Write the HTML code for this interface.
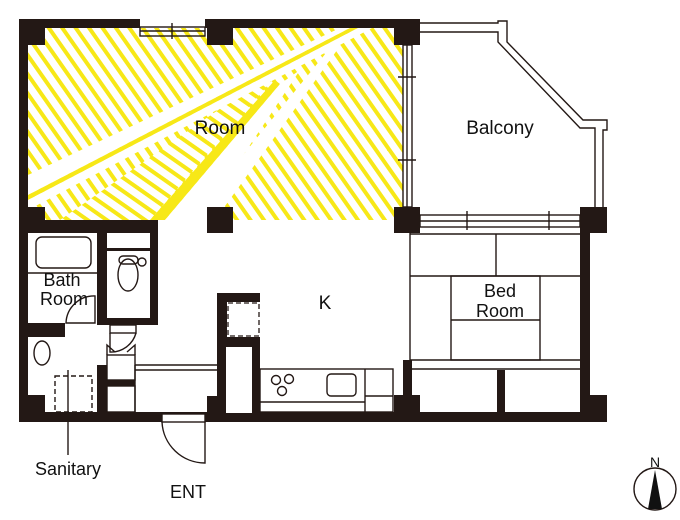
<!DOCTYPE html>
<html><head><meta charset="utf-8"><style>
html,body{margin:0;padding:0;background:#fff}
svg{display:block}
text{font-family:"Liberation Sans",sans-serif;fill:#111}
</style></head><body>
<svg width="680" height="520" viewBox="0 0 680 520" xmlns="http://www.w3.org/2000/svg">
<defs>
<clipPath id="rc"><rect x="28" y="28" width="375" height="192"/></clipPath>
<pattern id="h2" width="11" height="11" patternUnits="userSpaceOnUse" patternTransform="rotate(-35)">
<rect width="11" height="11" fill="#fff"/><rect x="0" y="0" width="4" height="11" fill="#f7e817"/></pattern>
<pattern id="h3" width="11" height="11" patternUnits="userSpaceOnUse" patternTransform="rotate(-55)">
<rect width="11" height="11" fill="#fff"/><rect x="0" y="0" width="4" height="11" fill="#f7e817"/></pattern>
</defs>
<g clip-path="url(#rc)">
<rect x="28" y="28" width="375" height="192" fill="url(#h2)"/>
<polygon points="60,220 150,220 290,60 " fill="url(#h3)"/>
<polygon points="28,175 340,28 350,28 28,195" fill="#fff"/>
<polygon points="28,195 350,28 358,28 28,200" fill="#f7e817"/>
<polygon points="28,200 358,28 372,28 28,210" fill="#fff"/>
<polygon points="150,220 275,80 280,84 165,220" fill="#f7e817"/>
<polygon points="165,220 280,84 300,70 200,220" fill="#fff"/>
<polygon points="190,220 335,42 340,46 215,220" fill="#fff"/>
</g>
<g fill="#231815">
<rect x="19" y="19" width="121" height="9"/>
<rect x="205" y="19" width="200" height="9"/>
<rect x="19" y="19" width="9" height="403"/>
<rect x="19" y="412" width="588" height="10"/>
<rect x="580" y="207" width="10" height="215"/>
<rect x="19" y="19" width="26" height="26"/>
<rect x="207" y="19" width="26" height="26"/>
<rect x="394" y="19" width="26" height="26"/>
<rect x="19" y="207" width="26" height="26"/>
<rect x="207" y="207" width="26" height="26"/>
<rect x="394" y="207" width="26" height="26"/>
<rect x="580" y="207" width="27" height="26"/>
<rect x="19" y="395" width="26" height="27"/>
<rect x="207" y="396" width="26" height="26"/>
<rect x="394" y="395" width="26" height="27"/>
<rect x="580" y="395" width="27" height="27"/>
<rect x="19" y="220" width="139" height="13"/>
<rect x="97" y="220" width="10" height="105"/>
<rect x="150" y="220" width="8" height="105"/>
<rect x="107" y="318" width="51" height="7"/>
<rect x="28" y="323" width="37" height="14"/>
<rect x="97" y="365" width="10" height="48"/>
<rect x="107" y="380" width="28" height="6"/>
<rect x="107" y="248" width="43" height="3"/>
<rect x="217" y="293" width="43" height="120"/>
<rect x="403" y="360" width="9" height="53"/>
<rect x="497" y="370" width="8" height="43"/>
</g>
<g fill="#fff">
<rect x="227" y="302" width="33" height="35"/>
<rect x="226" y="347" width="26" height="66"/>
</g>
<rect x="228" y="303" width="31" height="33" fill="none" stroke="#231815" stroke-dasharray="5,3" stroke-width="1.3"/>
<g fill="none" stroke="#231815" stroke-width="1.4">
<rect x="140" y="27" width="65" height="9"/><line x1="140" y1="31" x2="205" y2="31"/><line x1="172" y1="23" x2="172" y2="39"/>
<rect x="403" y="45" width="9" height="162"/><line x1="407" y1="45" x2="407" y2="207"/>
<line x1="398" y1="77" x2="416" y2="77"/><line x1="398" y1="160" x2="416" y2="160"/>
<polyline points="420,23 498,23 498,21 507,21 507,42 583,120 607,120 607,130 603,130 603,207"/>
<polyline points="420,32 498,32 498,42 580,128 595,128 595,207"/>
<rect x="420" y="215" width="160" height="12"/><line x1="420" y1="221" x2="580" y2="221"/>
<line x1="467" y1="211" x2="467" y2="230"/><line x1="549" y1="211" x2="549" y2="230"/>
<line x1="410" y1="233" x2="410" y2="362"/>
<line x1="410" y1="234" x2="580" y2="234"/>
<line x1="410" y1="276" x2="580" y2="276"/>
<line x1="496" y1="234" x2="496" y2="276"/>
<rect x="451" y="276" width="89" height="84"/>
<line x1="451" y1="320" x2="540" y2="320"/>
<line x1="410" y1="360" x2="580" y2="360"/>
<line x1="410" y1="369" x2="580" y2="369"/>
<rect x="260" y="369" width="133" height="43"/>
<line x1="260" y1="402" x2="365" y2="402"/>
<line x1="365" y1="369" x2="365" y2="412"/><line x1="365" y1="396" x2="393" y2="396"/>
<circle cx="276" cy="380" r="4.5"/><circle cx="289" cy="379" r="4.5"/><circle cx="282" cy="391" r="4.5"/>
<rect x="327" y="374" width="29" height="22" rx="4"/>
<line x1="135" y1="365" x2="217" y2="365"/><line x1="135" y1="370" x2="217" y2="370"/>
<line x1="135" y1="365" x2="135" y2="412"/>
<rect x="36" y="237" width="55" height="31" rx="6"/>
<line x1="28" y1="273" x2="97" y2="273"/>
<path d="M66 323 A28 28 0 0 1 95 296 L95 323 Z"/>
<ellipse cx="128" cy="275" rx="10" ry="16"/>
<rect x="119" y="256" width="19" height="8" rx="4"/>
<circle cx="142" cy="262" r="4"/>
<rect x="110" y="325" width="26" height="8"/>
<path d="M110 333 L110 352 A26 26 0 0 0 136 333"/>
<ellipse cx="42" cy="353" rx="8" ry="12"/>
<rect x="55" y="376" width="37" height="36" stroke-dasharray="5,3"/>
<line x1="68" y1="370" x2="68" y2="455"/>
<rect x="107" y="355" width="28" height="25"/>
<rect x="107" y="386" width="28" height="26"/>
<path d="M107 355 L107 345 L115 352 M135 355 L135 345 L127 352"/>
<rect x="162" y="414" width="43" height="8" fill="#fff"/>
<path d="M162 422 A43 43 0 0 0 205 463 L205 422"/>
<circle cx="655" cy="489" r="21"/>
</g>
<polygon points="655,470 648,509 662,509" fill="#111"/>
<text x="220" y="134" font-size="19" text-anchor="middle">Room</text>
<text x="500" y="134" font-size="19" text-anchor="middle">Balcony</text>
<text x="325" y="309" font-size="19" text-anchor="middle">K</text>
<text x="500" y="297" font-size="18" text-anchor="middle">Bed</text>
<text x="500" y="317" font-size="18" text-anchor="middle">Room</text>
<text x="62" y="286" font-size="18" text-anchor="middle">Bath</text>
<text x="64" y="305" font-size="18" text-anchor="middle">Room</text>
<text x="68" y="475" font-size="18" text-anchor="middle">Sanitary</text>
<text x="188" y="498" font-size="18" text-anchor="middle">ENT</text>
<text x="655" y="467" font-size="14" text-anchor="middle">N</text>
</svg>
</body></html>
